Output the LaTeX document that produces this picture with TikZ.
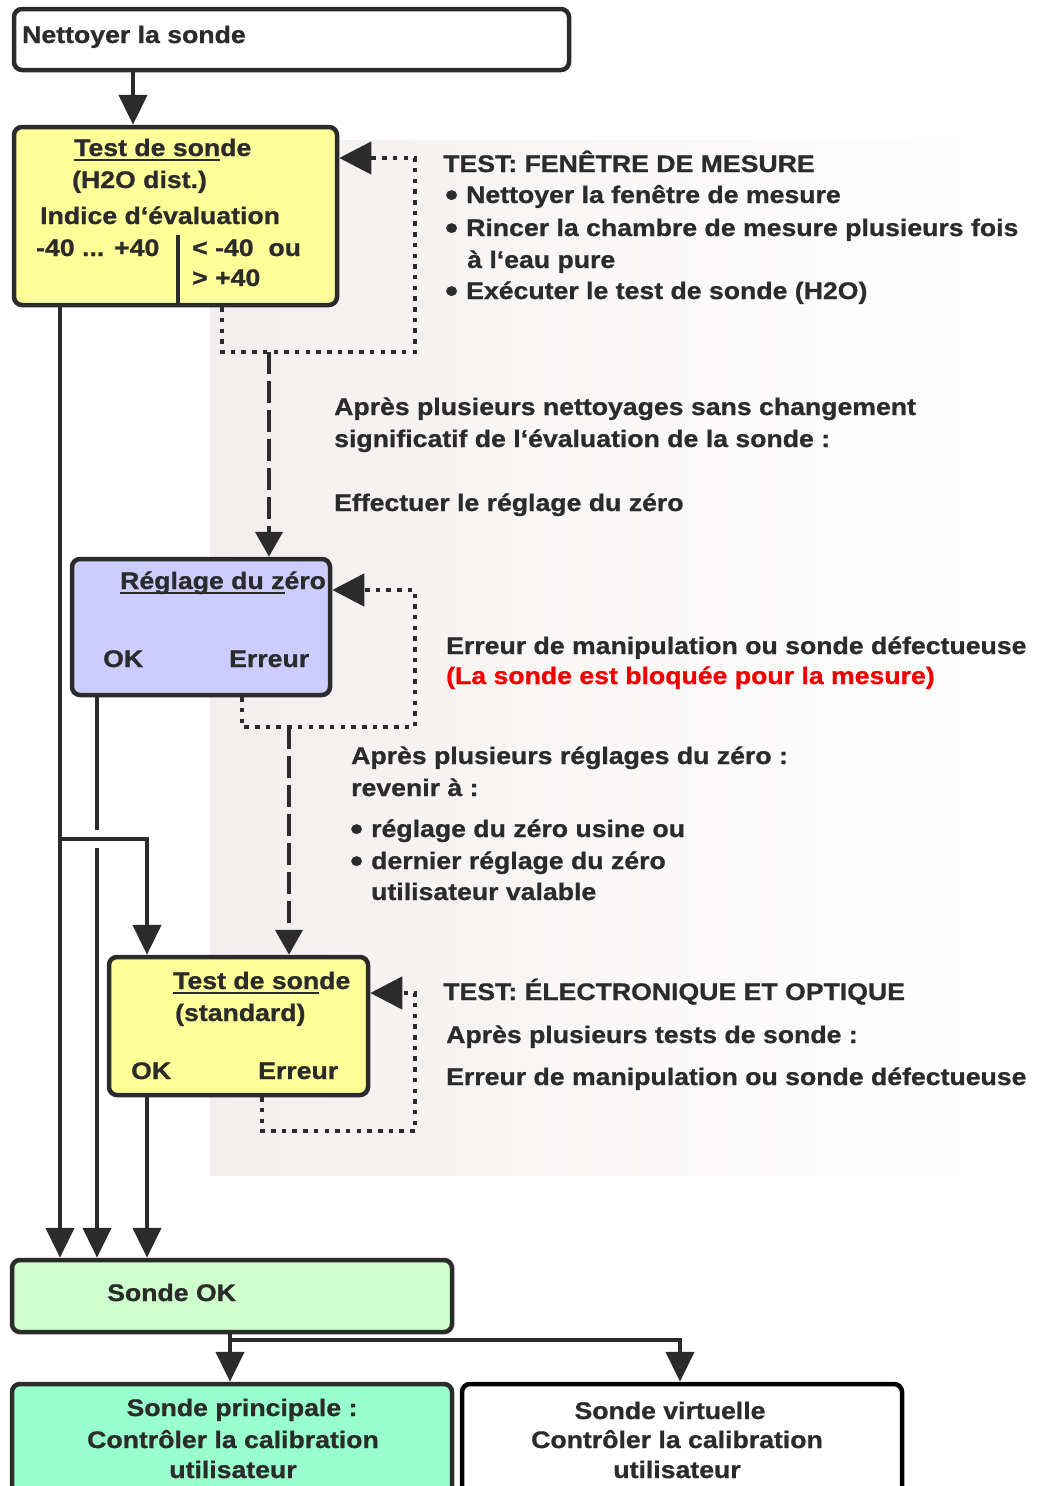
\documentclass[tikz,border=0pt]{standalone}
\usepackage{fontspec}
\setmainfont[FakeStretch=1.11,BoldFeatures={FakeBold=0.9}]{Liberation Sans}
\usetikzlibrary{arrows.meta}

\definecolor{ink}{HTML}{2B2B2B}
\definecolor{testyellow}{HTML}{FFFF99}
\definecolor{zerolila}{HTML}{CCCCFF}
\definecolor{okgreen}{HTML}{CCFFCC}
\definecolor{maingreen}{HTML}{99FFCC}
\definecolor{bgpink}{HTML}{F3EEEE}
\definecolor{alertred}{HTML}{F20000}

% underline drawn as a rule under part of a word
\newcommand\ulin[1]{\setbox0\hbox{#1}\rlap{\rule[-5pt]{\wd0}{1.8pt}}#1}
\newcommand\bul{\makebox[21pt][l]{\fontsize{33}{33}\selectfont\raisebox{-3pt}{•}}}

\begin{document}
\begin{tikzpicture}[x=1pt,y=-1pt,
    box/.style={draw=ink,line width=4.5pt,rounded corners=8pt,inner sep=0pt},
    txt/.style={anchor=base west,inner sep=0pt,text=ink,font=\fontsize{24}{28}\selectfont\bfseries},
    ctxt/.style={txt,anchor=base},
    wire/.style={draw=ink,line width=4.5pt},
    arr/.style={wire,-{Triangle[width=28pt,length=30pt]}},
    back/.style={wire,dash pattern=on 4.5pt off 6.2pt,-{Triangle[width=32pt,length=32pt]}},
    dashes/.style={wire,dash pattern=on 22pt off 7pt,-{Triangle[width=27pt,length=25pt]}}]
    \useasboundingbox (0,0) rectangle (1044,1486);
    \shade[left color=bgpink,right color=white] (210,140) rectangle (980,1175);

    % boxes
    \node[box,fill=white,minimum width=555,minimum height=61](nettoyer) at (291.5,39.5) {};
    \node[box,fill=testyellow,minimum width=323,minimum height=178](testh) at (175.5,216) {};
    \node[box,fill=zerolila,minimum width=258,minimum height=136](reglage) at (201,627) {};
    \node[box,fill=testyellow,minimum width=259,minimum height=138](teststd) at (238.5,1026) {};
    \node[box,fill=okgreen,minimum width=440,minimum height=72](sondeok) at (232,1296) {};
    \node[box,fill=maingreen,minimum width=440,minimum height=140](principale) at (232,1454) {};
    \node[box,draw=black,fill=white,minimum width=440,minimum height=140](virtuelle) at (682,1454) {};

    % texts in the boxes
    \node[txt](tnet) at (22,43) {Nettoyer la sonde};

    \node[txt](th1) at (74,156) {\ulin{Test de son}de};
    \node[txt](th2) at (72,188) {(H2O dist.)};
    \node[txt](th3) at (40,224) {Indice d‘évaluation};
    \node[txt](th4) at (36,256) {-40 ... +40};
    \node[txt](th5) at (192,256) {< -40\ \ ou};
    \node[txt](th6) at (192,286) {> +40};
    \draw[draw=ink,line width=4pt] (178,235) -- (testh.south -| 178,0);

    \node[txt](tz1) at (120,589) {\ulin{Réglage du z}éro};
    \node[txt](tz2) at (103,667) {OK};
    \node[txt](tz3) at (229,667) {Erreur};

    \node[txt](ts1) at (173,989) {\ulin{Test de son}de};
    \node[txt](ts2) at (175,1021) {(standard)};
    \node[txt](ts3) at (131,1079) {OK};
    \node[txt](ts4) at (258,1079) {Erreur};

    \node[txt](tok) at (107,1301) {Sonde OK};

    \node[ctxt](tp1) at (242,1416) {Sonde principale :};
    \node[ctxt](tp2) at (233,1448) {Contrôler la calibration};
    \node[ctxt](tp3) at (233,1478) {utilisateur};

    \node[ctxt](tv1) at (670,1419) {Sonde virtuelle};
    \node[ctxt](tv2) at (677,1448) {Contrôler la calibration};
    \node[ctxt](tv3) at (677,1478) {utilisateur};

    % notes on the right
    \node[txt](n1) at (443,172) {TEST: FENÊTRE DE MESURE};
    \node[txt](n2) at (445,203) {\bul Nettoyer la fenêtre de mesure};
    \node[txt](n3) at (445,236) {\bul Rincer la chambre de mesure plusieurs fois};
    \node[txt](n4) at (467,268) {à l‘eau pure};
    \node[txt](n5) at (445,299) {\bul Exécuter le test de sonde (H2O)};

    \node[txt](m1) at (334,415) {Après plusieurs nettoyages sans changement};
    \node[txt](m2) at (334,447) {significatif de l‘évaluation de la sonde :};
    \node[txt](m3) at (334,511) {Effectuer le réglage du zéro};

    \node[txt](e1) at (446,654) {Erreur de manipulation ou sonde défectueuse};
    \node[txt,text=alertred](e2) at (446,684) {(La sonde est bloquée pour la mesure)};

    \node[txt](r1) at (351,764) {Après plusieurs réglages du zéro :};
    \node[txt](r2) at (351,796) {revenir à :};
    \node[txt](r3) at (350,837) {\bul réglage du zéro usine ou};
    \node[txt](r4) at (350,869) {\bul dernier réglage du zéro};
    \node[txt](r5) at (371,900) {utilisateur valable};

    \node[txt](o1) at (443,1000) {TEST: ÉLECTRONIQUE ET OPTIQUE};
    \node[txt](o2) at (446,1043) {Après plusieurs tests de sonde :};
    \node[txt](o3) at (446,1085) {Erreur de manipulation ou sonde défectueuse};

    % connectors
    \coordinate (drop1) at (269,352);
    \coordinate (drop2) at (289,727);
    \coordinate (split) at (60,839);
    \coordinate (hopA) at (97,830);
    \coordinate (hopB) at (97,848);
    \coordinate (fork) at (230,1340);

    \draw[arr] (nettoyer.south -| 133,0) -- (testh.north -| 133,0);

    \draw[back] (testh.south -| 222,0) |- (415,352) |- (testh.east |- 0,158);
    \draw[dashes] (drop1) -- (reglage.north -| 269,0);

    \draw[back] (reglage.south -| 242,0) |- (415,727) |- (reglage.east |- 0,590);
    \draw[dashes] (drop2) -- (teststd.north -| 289,0);

    \draw[back] (teststd.south -| 262,0) |- (415,1131) |- (teststd.east |- 0,993);

    \draw[arr] (testh.south -| 60,0) -- (sondeok.north -| 60,0);
    \draw[arr] (split) -| (teststd.north -| 147,0);
    \draw[wire] (reglage.south -| 97,0) -- (hopA);
    \draw[arr] (hopB) -- (sondeok.north -| 97,0);
    \draw[arr] (teststd.south -| 147,0) -- (sondeok.north -| 147,0);

    \draw[arr] (sondeok.south -| 230,0) -- (principale.north -| 230,0);
    \draw[arr] (fork) -| (virtuelle.north -| 680,0);
\end{tikzpicture}
\end{document}
